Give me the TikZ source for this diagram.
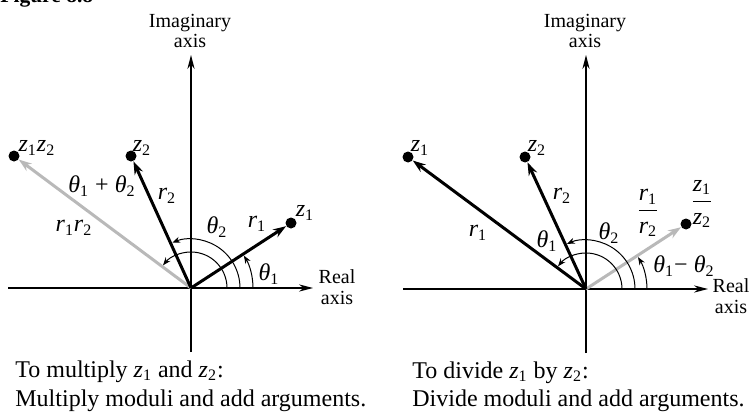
\documentclass[tikz,border=0pt]{standalone}
\usepackage{fontspec}
\setmainfont{Liberation Serif}
\usetikzlibrary{arrows.meta}
\definecolor{vgray}{RGB}{185,185,185}
\newcommand{\myz}[1]{\textit{z}\textsubscript{#1}}
\newcommand{\myr}[1]{\textit{r}\textsubscript{#1}}
\newcommand{\myth}[1]{\textit{θ}\textsubscript{#1}}
\begin{document}
\begin{tikzpicture}[x=0.5pt,y=0.5pt,
  axisline/.style={line width=0.65pt,-{Stealth[length=7pt,width=3.6pt]}},
  vec/.style={line width=1.5pt,-{Stealth[length=6.5pt,width=4.5pt]}},
  gvec/.style={vec,draw=vgray,-{Stealth[length=6.5pt,width=4.5pt,fill=vgray]}},
  angarc/.style={line width=0.5pt,-{Stealth[length=4pt,width=3pt]}},
  ptdot/.style={circle,fill=black,inner sep=0pt,minimum size=5.5pt},
  lab/.style={inner sep=0pt,font=\fontsize{12}{14}\selectfont},
  axlab/.style={inner sep=0pt,align=center,font=\fontsize{10}{10.2}\selectfont},
  captext/.style={inner sep=0pt,anchor=base west,font=\fontsize{12}{14}\selectfont}]
\useasboundingbox (0,0) rectangle (751,-412);
\node[anchor=base west,inner sep=0pt,font=\bfseries\fontsize{10.75}{12}\selectfont] (fig) at (0,-3) {Figure 8.8};
% ---------- left panel ----------
\coordinate (O1) at (191,-288);
\coordinate (Lw) at (8,-288);
\coordinate (Le) at (313,-288);
\coordinate (Ls) at (191,-352);
\coordinate (Ln) at (191,-55);
\draw[axisline] (Lw) -- (Le);
\draw[axisline] (Ls) -- (Ln);
\node[axlab] (Limag) at (190,-31) {Imaginary\\axis};
\node[axlab] (Lreal) at (337,-287) {Real\\axis};
\node[ptdot] (Lz1) at (291,-223) {};
\node[ptdot] (Lz2) at (131,-156) {};
\node[ptdot] (Lz12) at (14,-156) {};
\draw[gvec] (O1) -- (Lz12);
\draw[vec] (O1) -- (Lz2);
\draw[vec] (O1) -- (Lz1);
\draw[angarc] ([shift={(0:62)}]O1) arc[start angle=0,end angle=31.5,radius=31pt];
\draw[angarc] ([shift={(0:49)}]O1) arc[start angle=0,end angle=112.5,radius=24.5pt];
\draw[angarc] ([shift={(0:36)}]O1) arc[start angle=0,end angle=141,radius=18pt];
\node[lab] (Lz12l) at (37,-148) {\myz1\myz2};
\node[lab] (Lz2l) at (142,-148) {\myz2};
\node[lab] (Lz1l) at (305,-213) {\myz1};
\node[lab] (Lsum) at (102,-186) {\myth1 + \myth2};
\node[lab] (Lr2) at (167,-196) {\myr2};
\node[lab] (Lr12) at (74,-228) {\myr1\myr2};
\node[lab] (Lt2) at (217,-227) {\myth2};
\node[lab] (Lr1) at (257,-224) {\myr1};
\node[lab] (Lt1) at (269,-274) {\myth1};
\node[captext] (Lc1) at (15,-377) {To multiply \myz1 and \myz2:};
\node[captext] (Lc2) at (15,-406) {Multiply moduli and add arguments.};
% ---------- right panel ----------
\coordinate (O2) at (586,-289);
\coordinate (Rw) at (403,-289);
\coordinate (Re) at (708,-289);
\coordinate (Rs) at (586,-353);
\coordinate (Rn) at (586,-55);
\draw[axisline] (Rw) -- (Re);
\draw[axisline] (Rs) -- (Rn);
\node[axlab] (Rimag) at (585,-31) {Imaginary\\axis};
\node[axlab] (Rreal) at (731,-296) {Real\\axis};
\node[ptdot] (Rz1) at (408,-157) {};
\node[ptdot] (Rz2) at (525,-157) {};
\node[ptdot] (Rq) at (686,-224) {};
\draw[gvec] (O2) -- (Rq);
\draw[vec] (O2) -- (Rz1);
\draw[vec] (O2) -- (Rz2);
\draw[angarc] ([shift={(0:61)}]O2) arc[start angle=0,end angle=31.5,radius=30.5pt];
\draw[angarc] ([shift={(0:49)}]O2) arc[start angle=0,end angle=113,radius=24.5pt];
\draw[angarc] ([shift={(0:36)}]O2) arc[start angle=0,end angle=141,radius=18pt];
\node[lab] (Rz1l) at (420,-148) {\myz1};
\node[lab] (Rz2l) at (537,-148) {\myz2};
\node[lab] (Rr2) at (562,-196) {\myr2};
\node[lab] (Rr1) at (478,-233) {\myr1};
\node[lab] (Rt1) at (547,-241) {\myth1};
\node[lab] (Rt2) at (609,-233) {\myth2};
\node[lab] (Rrq) at (648,-213) {$\displaystyle{\myr1\over\myr2}$};
\node[lab] (Rzq) at (702,-204) {$\displaystyle{\myz1\over\myz2}$};
\node[lab] (Rdiff) at (684,-266) {\myth1− \myth2};
\node[captext] (Rc1) at (412,-378) {To divide \myz1 by \myz2:};
\node[captext] (Rc2) at (412,-406) {Divide moduli and add arguments.};
\end{tikzpicture}
\end{document}
